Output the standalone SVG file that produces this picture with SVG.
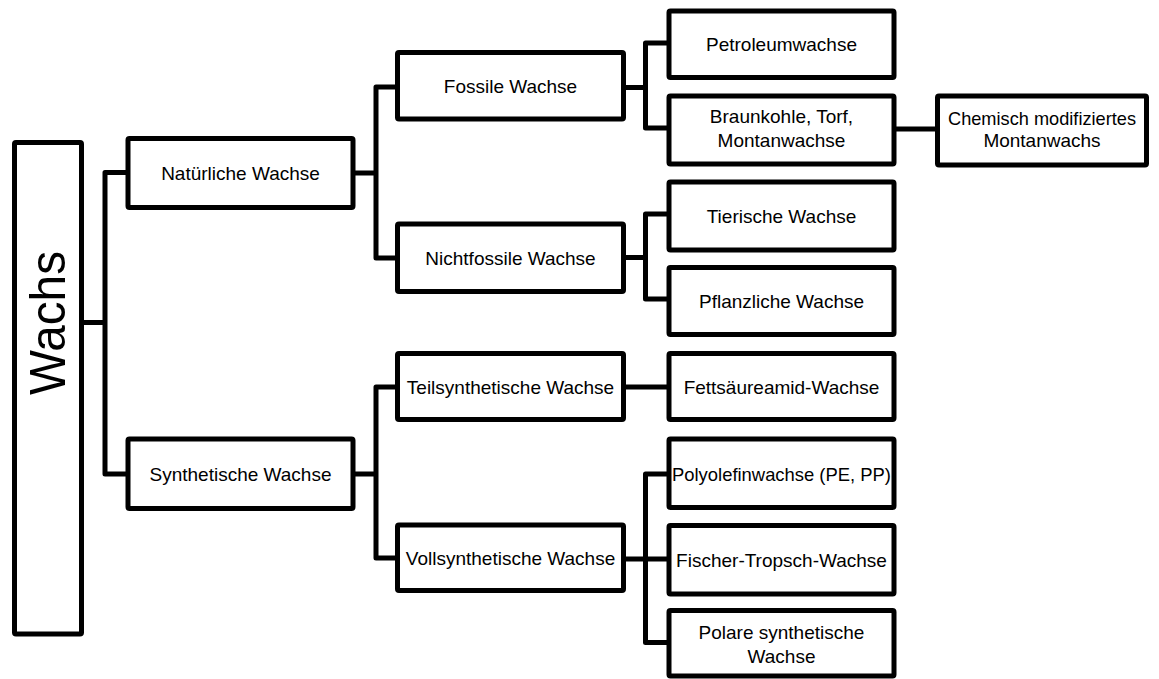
<svg xmlns="http://www.w3.org/2000/svg" width="1159" height="679" viewBox="0 0 1159 679">
<style>
.box{fill:#fff;stroke:#000;stroke-width:5;}
.t{font-family:"Liberation Sans",Arial,sans-serif;font-size:19px;fill:#000;text-anchor:middle;}
.big{font-family:"Liberation Sans",Arial,sans-serif;font-size:50px;fill:#000;text-anchor:middle;}
.c{fill:none;stroke:#000;stroke-width:5;stroke-linejoin:round;}
</style>
<rect width="1159" height="679" fill="#fff"/>
<g id="connectors">
<path class="c" d="M81.5,322.5 H105 M128,172.5 H105 V474 H128"/>
<path class="c" d="M353,173 H376 M397.5,87 H376 V258 H397.5"/>
<path class="c" d="M353,474 H376 M397.5,387 H376 V558 H397.5"/>
<path class="c" d="M623.5,87.5 H645.5 M669,43 H645.5 V128 H669"/>
<path class="c" d="M894,129 H937.5"/>
<path class="c" d="M623.5,257.5 H645.5 M669,214 H645.5 V299 H669"/>
<path class="c" d="M623.5,387 H669"/>
<path class="c" d="M623.5,559 H669 M669,474 H645.5 V642.5 H669"/>
</g>
<g id="wachs">
<rect class="box" x="14.5" y="142.5" width="67" height="491.5" rx="1.5"/>
<text class="big" transform="translate(65,323) rotate(-90)" x="0" y="0" textLength="144" lengthAdjust="spacingAndGlyphs">Wachs</text>
</g>
<g id="natuerliche">
<rect class="box" x="128" y="138.5" width="225" height="69" rx="1.5"/>
<text class="t" x="240.5" y="180">Natürliche Wachse</text>
</g>
<g id="synthetische">
<rect class="box" x="128" y="439" width="225" height="69.5" rx="1.5"/>
<text class="t" x="240.5" y="480.5">Synthetische Wachse</text>
</g>
<g id="fossile">
<rect class="box" x="397.5" y="52.5" width="226" height="66.5" rx="1.5"/>
<text class="t" x="510.5" y="92.5">Fossile Wachse</text>
</g>
<g id="nichtfossile">
<rect class="box" x="397.5" y="224" width="226" height="67.5" rx="1.5"/>
<text class="t" x="510.5" y="264.5">Nichtfossile Wachse</text>
</g>
<g id="teilsynthetische">
<rect class="box" x="397.5" y="353.5" width="226" height="66" rx="1.5"/>
<text class="t" x="510.5" y="393.5">Teilsynthetische Wachse</text>
</g>
<g id="vollsynthetische">
<rect class="box" x="397.5" y="525" width="226" height="65.5" rx="1.5"/>
<text class="t" x="510.5" y="564.5">Vollsynthetische Wachse</text>
</g>
<g id="petroleum">
<rect class="box" x="669" y="11" width="225" height="66.5" rx="1.5"/>
<text class="t" x="781.5" y="51">Petroleumwachse</text>
</g>
<g id="braunkohle">
<rect class="box" x="669" y="96" width="225" height="68" rx="1.5"/>
<text class="t" x="781.5" y="122.5">Braunkohle, Torf,</text>
<text class="t" x="781.5" y="146.5">Montanwachse</text>
</g>
<g id="chemisch">
<rect class="box" x="937.5" y="96" width="209" height="69" rx="1.5"/>
<text class="t" x="1042" y="124.5" textLength="188" lengthAdjust="spacingAndGlyphs">Chemisch modifiziertes</text>
<text class="t" x="1042" y="147">Montanwachs</text>
</g>
<g id="tierische">
<rect class="box" x="669" y="182" width="225" height="68" rx="1.5"/>
<text class="t" x="781.5" y="222.5">Tierische Wachse</text>
</g>
<g id="pflanzliche">
<rect class="box" x="669" y="267.5" width="225" height="67" rx="1.5"/>
<text class="t" x="781.5" y="307.5">Pflanzliche Wachse</text>
</g>
<g id="fettsaeure">
<rect class="box" x="669" y="353.5" width="225" height="66" rx="1.5"/>
<text class="t" x="781.5" y="393.5">Fettsäureamid-Wachse</text>
</g>
<g id="polyolefin">
<rect class="box" x="669" y="439" width="225" height="68.5" rx="1.5"/>
<text class="t" x="781.5" y="480.5" textLength="219" lengthAdjust="spacingAndGlyphs">Polyolefinwachse (PE, PP)</text>
</g>
<g id="fischer">
<rect class="box" x="669" y="525.5" width="225" height="68.5" rx="1.5"/>
<text class="t" x="781.5" y="566.5">Fischer-Tropsch-Wachse</text>
</g>
<g id="polare">
<rect class="box" x="669" y="610.5" width="225" height="65.5" rx="1.5"/>
<text class="t" x="781.5" y="639">Polare synthetische</text>
<text class="t" x="781.5" y="663">Wachse</text>
</g>
</svg>
